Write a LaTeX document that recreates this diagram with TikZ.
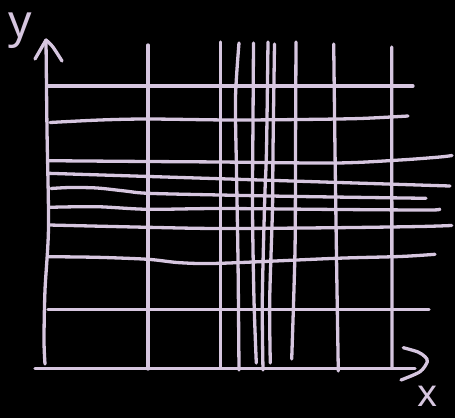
\documentclass[tikz,border=0pt]{standalone}
\usepackage{fontspec}
\newfontfamily\handfont{Noto Sans}
\definecolor{lav}{HTML}{D6C6DF}
\begin{document}
\begin{tikzpicture}[x=1pt,y=-1pt,
  pen/.style={draw=lav,line width=3.3pt,line cap=round,line join=round},
  lbl/.style={text=lav,font=\handfont\fontsize{46}{46}\selectfont,inner sep=0pt}]
\fill[black] (0,0) rectangle (455,418);
\useasboundingbox (0,0) rectangle (455,418);
% axes
\draw[pen] plot[smooth] coordinates {(46,40) (47,130) (48.5,227) (45,290) (44,340) (45,364)};
\draw[pen] (35,59) -- (46,40);
\draw[pen] plot[smooth] coordinates {(46,40) (52.7,46.7) (62,61)};
\draw[pen] (35,368.5) -- (415,368.5);
\draw[pen] plot[smooth] coordinates {(403.3,347.7) (418,352) (425,356.7) (427.3,361.7) (420,371.7) (401,380)};
% vertical lines
\draw[pen] (148,45) -- (148,369);
\draw[pen] (220.7,42) -- (220.7,368);
\draw[pen] plot[smooth] coordinates {(239,43) (235.5,98) (236.5,171) (238,260) (239,370)};
\draw[pen] plot[smooth] coordinates {(253.5,43) (253,121) (252.5,208) (254,300) (256.3,363)};
\draw[pen] plot[smooth] coordinates {(268,42) (266.5,150) (264.7,200) (262.3,300) (263,370)};
\draw[pen] plot[smooth] coordinates {(274.5,44) (273,150) (272.5,208) (269.7,300) (270.3,363)};
\draw[pen] plot[smooth] coordinates {(296,42) (295.5,150) (295,250) (291.7,359)};
\draw[pen] plot[smooth] coordinates {(333.7,44) (335,150) (336.7,270) (338.3,371)};
\draw[pen] (391.7,47) -- (392,367);
% horizontal lines
\draw[pen] (48,86) -- (413,86);
\draw[pen] plot[smooth] coordinates {(50,122.5) (100,120) (148,119) (230,120) (300,119.5) (360,118.5) (408,116)};
\draw[pen] plot[smooth] coordinates {(48,160.7) (148,161.5) (220,162) (336,163) (400,160) (440,157) (452,155.5)};
\draw[pen] (48,173.3) -- (450,186);
\draw[pen] plot[smooth] coordinates {(51,188.5) (70,187.5) (97,188) (125,191) (148,193.3) (220,195) (300,196.5) (426,198.3)};
\draw[pen] plot[smooth] coordinates {(49,207.3) (97,206.7) (148,209.3) (220,208.5) (340,209.5) (430,210) (439,209)};
\draw[pen] plot[smooth] coordinates {(49,225) (148,227.3) (220,228.5) (336,227.7) (420,226.5) (451.7,225.5)};
\draw[pen] plot[smooth] coordinates {(48,256.7) (97,257.3) (148,259.3) (180,262.7) (220,263.3) (336,258.3) (400,256.5) (435,254.3)};
\draw[pen] (48,309.3) -- (429,309.3);
% labels
\node[lbl,anchor=base] (ylab) at (20,37) {y};
\node[lbl,anchor=base,font=\handfont\fontsize{38}{38}\selectfont] (xlab) at (428,406) {x};
\end{tikzpicture}
\end{document}
